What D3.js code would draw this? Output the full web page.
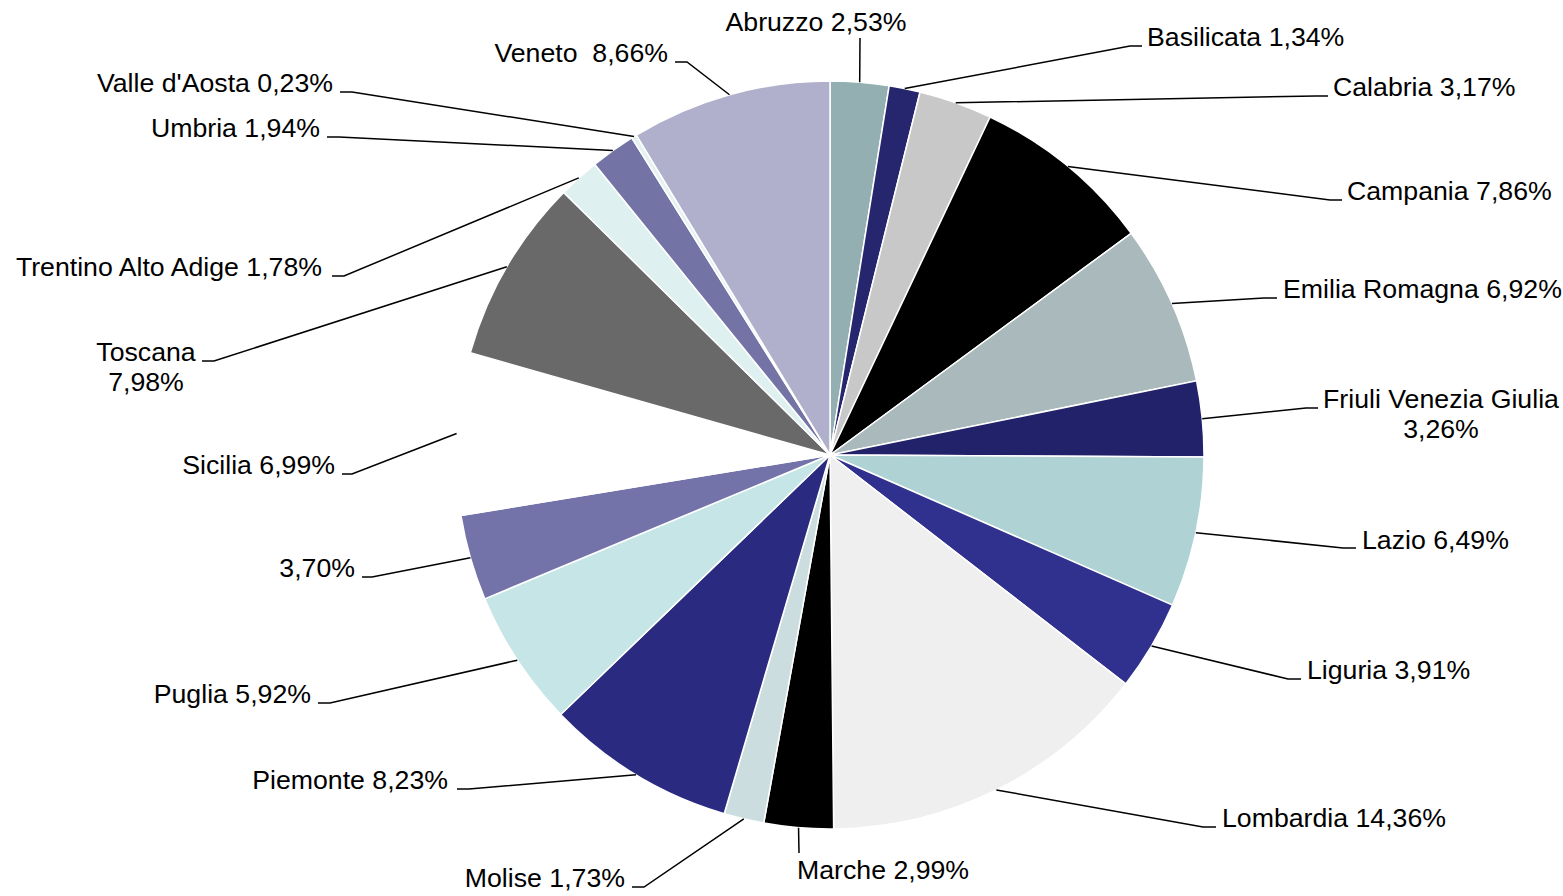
<!DOCTYPE html>
<html>
<head>
<meta charset="utf-8">
<script src="https://cdn.jsdelivr.net/npm/d3@7"></script>
<style>
  body { margin: 0; background: #fff; }
  text { font-family: "Liberation Sans", Arial, sans-serif; font-size: 26.7px; fill: #000; white-space: pre; }
</style>
</head>
<body>
<div id="chart"></div>
<script>
//// data
var regions = ["Abruzzo", "Basilicata", "Calabria", "Campania", "Emilia Romagna",
  "Friuli Venezia Giulia", "Lazio", "Liguria", "Lombardia", "Marche", "Molise",
  "Piemonte", "Puglia", "Sardegna", "Sicilia", "Toscana", "Trentino Alto Adige",
  "Umbria", "Valle d'Aosta", "Veneto"];
var shares = [2.53, 1.34, 3.17, 7.86, 6.92, 3.26, 6.49, 3.91, 14.36, 2.99, 1.73,
  8.23, 5.92, 3.70, 6.99, 7.98, 1.78, 1.94, 0.23, 8.66];
// names as printed next to the slices (Sardegna has no name in the original)
var labelNames = ["Abruzzo", "Basilicata", "Calabria", "Campania", "Emilia Romagna",
  "Friuli Venezia Giulia", "Lazio", "Liguria", "Lombardia", "Marche", "Molise",
  "Piemonte", "Puglia", "", "Sicilia", "Toscana", "Trentino Alto Adige",
  "Umbria", "Valle d'Aosta", "Veneto "];

var colors = ["#93afb1", "#26266f", "#c8c8c8", "#000000", "#a9b9bc", "#22226a",
  "#afd2d4", "#30308f", "#efefef", "#000000", "#ccdde0", "#2a2a80", "#c5e5e7",
  "#7373aa", "#ffffff", "#696969", "#def0f0", "#7373a6", "#e6f2f2", "#b0b0cc"];

//// label layout: text position, anchor, elbow of leader, stub length
var labelLayout = [
  {x: 816, y: 31, a: "middle", ex: 860, ey: 38, s: 0},
  {x: 1147, y: 46, a: "start", ex: 1130, ey: 46, s: 12},
  {x: 1333, y: 96, a: "start", ex: 1316, ey: 96, s: 12},
  {x: 1347, y: 200, a: "start", ex: 1330, ey: 200, s: 12},
  {x: 1283, y: 298, a: "start", ex: 1264, ey: 298, s: 13},
  {x: 1441, y: 408, a: "middle", ex: 1306, ey: 408, s: 12, wrap: true},
  {x: 1362, y: 549, a: "start", ex: 1343, ey: 548, s: 13},
  {x: 1307, y: 679, a: "start", ex: 1288, ey: 679, s: 13},
  {x: 1222, y: 827, a: "start", ex: 1203, ey: 827, s: 13},
  {x: 797, y: 879, a: "start", ex: 799, ey: 853, s: 0},
  {x: 625, y: 887, a: "end", ex: 644, ey: 887, s: -12},
  {x: 448, y: 789, a: "end", ex: 469, ey: 789, s: -12},
  {x: 311, y: 703, a: "end", ex: 330, ey: 703, s: -12},
  {x: 355, y: 577, a: "end", ex: 372, ey: 577, s: -10},
  {x: 335, y: 474, a: "end", ex: 352, ey: 474, s: -10},
  {x: 146, y: 361, a: "middle", ex: 214, ey: 361, s: -12, wrap: true},
  {x: 322, y: 276, a: "end", ex: 344, ey: 276, s: -12},
  {x: 320, y: 137, a: "end", ex: 339, ey: 137, s: -12},
  {x: 333, y: 92, a: "end", ex: 352, ey: 92, s: -12},
  {x: 668, y: 62, a: "end", ex: 687, ey: 62, s: -12}
];

var width = 1563, height = 896;
var cx = 830, cy = 455, radius = 374;

var svg = d3.select("#chart")
  .append("svg")
    .attr("width", width)
    .attr("height", height);

var g = svg.append("g")
    .attr("transform", "translate(" + cx + "," + cy + ")");

var pie = d3.pie().sort(null).value(function(d) { return d; });
var arcs = pie(shares);

var arc = d3.arc().innerRadius(0).outerRadius(radius);
var rim = d3.arc().innerRadius(radius).outerRadius(radius);

//// slices
g.selectAll(".slice")
  .data(arcs)
  .enter()
  .append("path")
    .attr("class", "slice")
    .attr("d", arc)
    .attr("fill", function(d, i) { return colors[i]; })
    .attr("stroke", "#fff")
    .attr("stroke-width", 1.5);

var fmt = function(v) { return d3.format(".2f")(v).replace(".", ",") + "%"; };

//// leader lines
svg.selectAll(".leader")
  .data(arcs)
  .enter()
  .append("polyline")
    .attr("class", "leader")
    .attr("fill", "none")
    .attr("stroke", "#000")
    .attr("stroke-width", 1.5)
    .attr("points", function(d, i) {
      var p = rim.centroid(d), L = labelLayout[i];
      var pts = [[p[0] + cx, p[1] + cy], [L.ex, L.ey]];
      if (L.s) pts.push([L.ex + L.s, L.ey]);
      return pts.map(function(q) { return q.join(","); }).join(" ");
    });

//// labels
svg.selectAll(".lbl")
  .data(arcs)
  .enter()
  .append("text")
    .attr("class", "lbl")
    .attr("text-anchor", function(d, i) { return labelLayout[i].a; })
    .each(function(d, i) {
      var L = labelLayout[i], t = d3.select(this);
      var name = labelNames[i], val = fmt(shares[i]);
      if (L.wrap) {
        t.append("tspan").attr("x", L.x).attr("y", L.y).text(name);
        t.append("tspan").attr("x", L.x).attr("y", L.y + 30).text(val);
      } else {
        t.attr("x", L.x).attr("y", L.y).text(name ? name + " " + val : val);
      }
    });
</script>
</body>
</html>
